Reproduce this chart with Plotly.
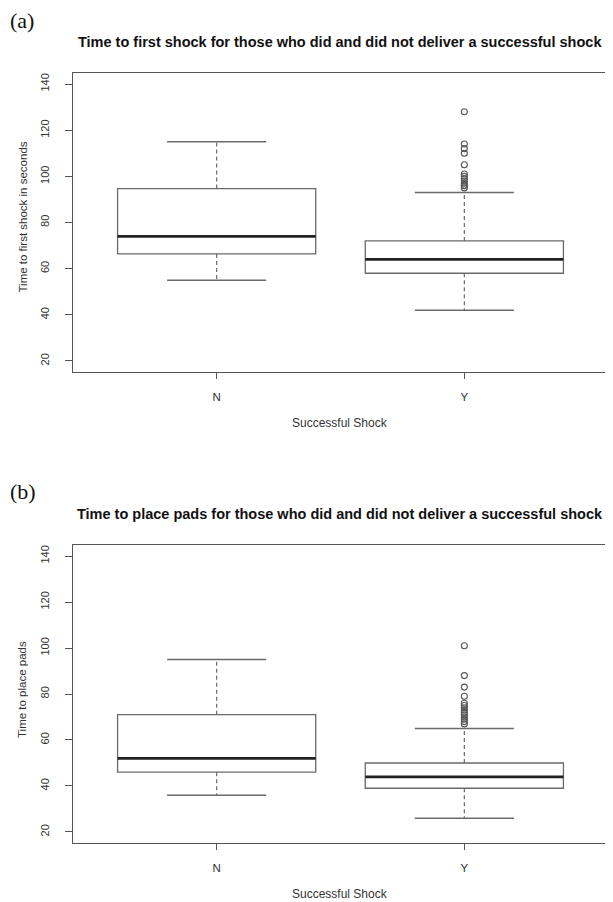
import plotly.graph_objects as go

# ---------------- data ----------------
groups = ["N", "Y"]
group_pos = [1, 2]

# (a) Time to first shock (seconds)
a_q1 = [66.4, 58]
a_median = [74, 64]
a_q3 = [94.7, 72]
a_lower = [55, 42]
a_upper = [115, 93]
a_outliers_Y = [128, 114, 112, 110, 105, 101, 100, 99, 98, 97, 96, 96, 95]

# (b) Time to place pads
b_q1 = [46, 39]
b_median = [52, 44]
b_q3 = [71, 50]
b_lower = [36, 26]
b_upper = [95, 65]
b_outliers_Y = [101, 88, 83, 79, 76, 75, 74, 73, 72, 71, 70, 69, 68, 67]

y_ticks = [20, 40, 60, 80, 100, 120, 140]

titles = [
    "Time to first shock for those who did and did not deliver a successful shock",
    "Time to place pads for those who did and did not deliver a successful shock",
]
y_titles = ["Time to first shock in seconds", "Time to place pads"]
x_title = "Successful Shock"
panel_labels = ["(a)", "(b)"]

# ---------------- style ----------------
OFF = 8                      # browser body margin
W, H = 613 - OFF, 902 - OFF  # figure size so page fits the window
BOX_COL = "#6a6a6a"
FRAME_COL = "#555555"
TXT_COL = "#333333"
FONT = "Liberation Sans, Arial, sans-serif"
BOXW = 0.8
CAPW = 0.2

fig = go.Figure()

panels = [
    dict(q1=a_q1, med=a_median, q3=a_q3, lo=a_lower, hi=a_upper, out=a_outliers_Y, xa="x", ya="y"),
    dict(q1=b_q1, med=b_median, q3=b_q3, lo=b_lower, hi=b_upper, out=b_outliers_Y, xa="x2", ya="y2"),
]

for p in panels:
    # box rectangles (whiskers drawn separately, dashed, R-style)
    fig.add_trace(go.Box(
        x=group_pos, q1=p["q1"], median=p["med"], q3=p["q3"],
        lowerfence=p["q1"], upperfence=p["q3"],
        width=BOXW, fillcolor="white", line=dict(color=BOX_COL, width=1.3),
        boxpoints=False, showlegend=False, hoverinfo="skip",
        xaxis=p["xa"], yaxis=p["ya"],
    ))
    for i, xp in enumerate(group_pos):
        # dashed whiskers
        for a, b in ((p["q3"][i], p["hi"][i]), (p["q1"][i], p["lo"][i])):
            fig.add_trace(go.Scatter(
                x=[xp, xp], y=[a, b], mode="lines",
                line=dict(color=BOX_COL, width=1.2, dash="4px,3px"),
                showlegend=False, hoverinfo="skip", xaxis=p["xa"], yaxis=p["ya"],
            ))
        # whisker caps
        for v in (p["hi"][i], p["lo"][i]):
            fig.add_trace(go.Scatter(
                x=[xp - CAPW, xp + CAPW], y=[v, v], mode="lines",
                line=dict(color=BOX_COL, width=1.5),
                showlegend=False, hoverinfo="skip", xaxis=p["xa"], yaxis=p["ya"],
            ))
        # thick median
        fig.add_trace(go.Scatter(
            x=[xp - BOXW / 2, xp + BOXW / 2], y=[p["med"][i], p["med"][i]], mode="lines",
            line=dict(color="#222222", width=2.8),
            showlegend=False, hoverinfo="skip", xaxis=p["xa"], yaxis=p["ya"],
        ))
    # outliers for Y group
    fig.add_trace(go.Scatter(
        x=[group_pos[1]] * len(p["out"]), y=p["out"], mode="markers",
        marker=dict(symbol="circle-open", size=6, color="#555555", line=dict(width=1.1)),
        showlegend=False, hoverinfo="skip", xaxis=p["xa"], yaxis=p["ya"],
    ))

def px_y(py):
    return 1 - (py - OFF) / H

def px_x(pxx):
    return (pxx - OFF) / W

x_dom = [px_x(73), px_x(608)]
dom_top = [px_y(372), px_y(73)]
dom_bot = [px_y(843), px_y(545)]

xaxis_common = dict(
    range=[0.42, 2.58], tickvals=group_pos, ticktext=groups,
    ticks="outside", ticklen=6, tickcolor=FRAME_COL, tickwidth=1,
    showline=True, linecolor=FRAME_COL, linewidth=1.2, mirror=True,
    showgrid=False, zeroline=False, domain=x_dom,
    tickfont=dict(family=FONT, size=11.5, color=TXT_COL),
    ticklabelstandoff=8,
)
yaxis_common = dict(
    range=[15.2, 144.8], tickvals=y_ticks,
    ticks="outside", ticklen=7, tickcolor=FRAME_COL, tickwidth=1,
    showline=True, linecolor=FRAME_COL, linewidth=1.2, mirror=True,
    showgrid=False, zeroline=False, tickangle=-90,
    tickfont=dict(family=FONT, size=11, color=TXT_COL),
    ticklabelstandoff=12,
)

fig.update_layout(
    width=W, height=H, margin=dict(l=0, r=0, t=0, b=0),
    paper_bgcolor="white", plot_bgcolor="white",
    xaxis=dict(**xaxis_common, anchor="y"),
    yaxis=dict(**yaxis_common, domain=dom_top, anchor="x"),
    xaxis2=dict(**xaxis_common, anchor="y2"),
    yaxis2=dict(**yaxis_common, domain=dom_bot, anchor="x2"),
)

ann = []
cx = px_x((73 + 608) / 2)
for title, py in zip(titles, (42, 514)):
    ann.append(dict(text="<b>%s</b>" % title, x=cx, y=px_y(py), xref="paper", yref="paper",
                    showarrow=False, xanchor="center", yanchor="middle",
                    font=dict(family=FONT, size=14.5, color="#111111")))
for lab, py in zip(panel_labels, (21, 492)):
    ann.append(dict(text=lab, x=px_x(8), y=px_y(py), xref="paper", yref="paper",
                    showarrow=False, xanchor="left", yanchor="middle",
                    font=dict(family="Liberation Serif, Times New Roman, serif", size=22, color="#111111")))
for yt, py in zip(y_titles, ((73 + 372) / 2 - 5, (545 + 843) / 2 - 4)):
    ann.append(dict(text=yt, x=px_x(22), y=px_y(py), xref="paper", yref="paper",
                    showarrow=False, textangle=-90, xanchor="center", yanchor="middle",
                    font=dict(family=FONT, size=11.5, color=TXT_COL)))
for py in (423, 894):
    ann.append(dict(text=x_title, x=cx, y=px_y(py), xref="paper", yref="paper",
                    showarrow=False, xanchor="center", yanchor="middle",
                    font=dict(family=FONT, size=12, color=TXT_COL)))
fig.update_layout(annotations=ann)

fig.write_html("out.html")
